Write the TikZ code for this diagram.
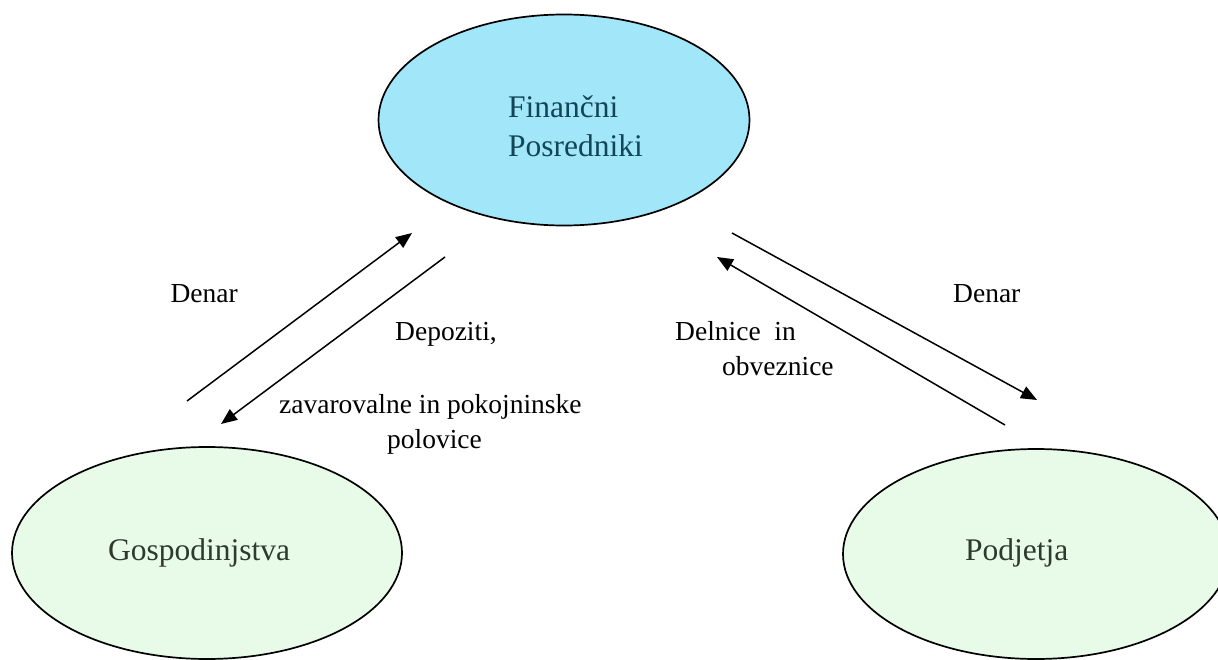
\documentclass[tikz,border=0pt]{standalone}
\usepackage{fontspec}
\setmainfont{Liberation Serif}
\usetikzlibrary{shapes.geometric,arrows.meta}
\definecolor{bankfill}{RGB}{162,230,250}
\definecolor{sectorfill}{RGB}{232,251,232}
\definecolor{banktext}{RGB}{18,70,86}
\definecolor{sectortext}{RGB}{45,58,45}
\tikzset{
  party/.style={ellipse, draw=black, line width=1.7pt, inner sep=0pt},
  flow/.style={line width=1.5pt, -{Triangle[length=16pt,width=13pt]}},
  lbl/.style={anchor=base west, inner sep=0pt, font=\fontsize{27.5}{33}\selectfont},
  partytext/.style={anchor=base west, inner sep=0pt, font=\fontsize{31.5}{38}\selectfont}
}
\begin{document}
\begin{tikzpicture}[x=1pt,y=-1pt]
\useasboundingbox (0,0) rectangle (1218,660);

% the three sectors
\node[party, fill=bankfill, minimum width=371pt, minimum height=211pt] (fp) at (564,120) {};
\node[party, fill=sectorfill, minimum width=390pt, minimum height=212pt] (gos) at (207,553) {};
\node[party, fill=sectorfill, minimum width=386pt, minimum height=210pt] (pod) at (1036,554) {};

\node[partytext, text=banktext] (fpa) at (508,118) {Finančni};
\node[partytext, text=banktext] (fpb) at (508,157) {Posredniki};
\node[partytext, text=sectortext] (gost) at (108,560) {Gospodinjstva};
\node[partytext, text=sectortext] (podt) at (965,560) {Podjetja};

% end points of the money and claim flows
\coordinate (gu1) at (187,401);
\coordinate (gu2) at (412,233);
\coordinate (gd1) at (445,257);
\coordinate (gd2) at (221,424);
\coordinate (pd1) at (732,233);
\coordinate (pd2) at (1037,400);
\coordinate (pu1) at (1005,425);
\coordinate (pu2) at (717,257);

\draw[flow] (gu1) -- (gu2);
\draw[flow] (gd1) -- (gd2);
\draw[flow] (pd1) -- (pd2);
\draw[flow] (pu1) -- (pu2);

% flow labels
\node[lbl, anchor=base east] (l1) at (238,302) {Denar};
\node[lbl] (l2) at (395,340) {Depoziti,};
\node[lbl] (l3) at (279,413) {zavarovalne in pokojninske};
\node[lbl] (l4) at (387,448) {polovice};
\node[lbl] (l5) at (675,340) {Delnice\ \ in};
\node[lbl] (l6) at (722,375) {obveznice};
\node[lbl] (l7) at (953,302) {Denar};
\end{tikzpicture}
\end{document}
